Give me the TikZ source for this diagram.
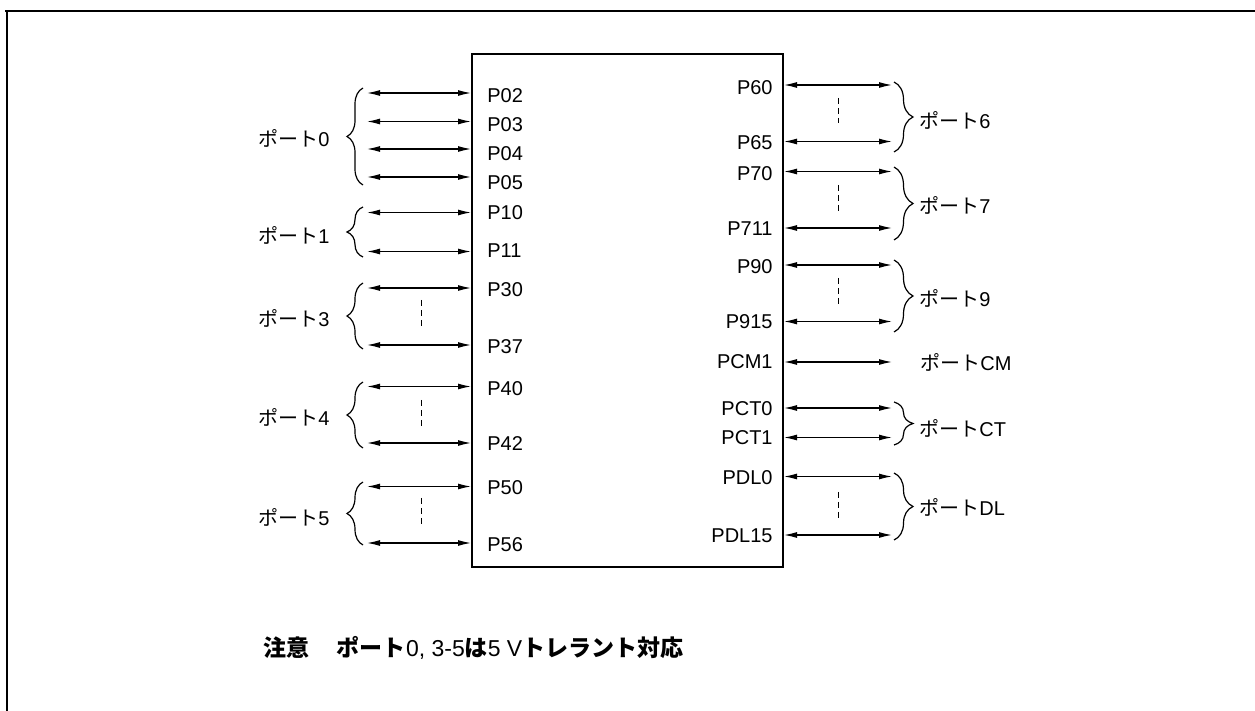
\documentclass[tikz,border=0pt]{standalone}
\usepackage{fontspec}
\setmainfont{Liberation Sans}
\newfontfamily\jp{Noto Sans CJK JP}
\usepackage{tikz}
\usetikzlibrary{arrows.meta,decorations.pathreplacing}

\newcommand{\portname}[1]{{\jp ポート}#1}

\begin{document}
\begin{tikzpicture}[
    x=0.5pt, y=-0.5pt,
    chip/.style={rectangle, draw, line width=1pt, inner sep=0pt, minimum width=155.5pt, minimum height=256.5pt},
    lpin/.style={anchor=west, inner sep=0pt, font=\fontsize{10}{12}\selectfont},
    rpin/.style={anchor=east, inner sep=0pt, font=\fontsize{10}{12}\selectfont},
    lgrp/.style={anchor=east, inner sep=0pt, font=\fontsize{10}{12}\selectfont},
    rgrp/.style={anchor=west, inner sep=0pt, font=\fontsize{10}{12}\selectfont},
    io/.style={{Latex[length=6.5pt,width=3pt]}-{Latex[length=6.5pt,width=3pt]}, line width=0.6pt},
    lbrace/.style={decorate, decoration={brace, amplitude=8pt}, line width=0.6pt},
    rbrace/.style={decorate, decoration={brace, amplitude=9.5pt}, line width=0.6pt},
    etc/.style={dash pattern=on 3pt off 2pt, line width=0.5pt}
]
    \useasboundingbox (0,0) rectangle (1255,711);
    % frame
    \draw [line width=1pt] (5,11) -- (1255,11);
    \draw [line width=1pt] (7,11) -- (7,711);

    \node [chip] (chip) at (627.5,310.5) {};

    % left side pins
    \node [lpin] (p02) at (487,96) {P02};
    \node [lpin] (p03) at (487,125) {P03};
    \node [lpin] (p04) at (487,154) {P04};
    \node [lpin] (p05) at (487,183) {P05};
    \node [lpin] (p10) at (487,213) {P10};
    \node [lpin] (p11) at (487,251) {P11};
    \node [lpin] (p30) at (487,290) {P30};
    \node [lpin] (p37) at (487,347) {P37};
    \node [lpin] (p40) at (487,389) {P40};
    \node [lpin] (p42) at (487,444) {P42};
    \node [lpin] (p50) at (487,488) {P50};
    \node [lpin] (p56) at (487,545) {P56};

    \coordinate (a02) at (367,93);
    \coordinate (a03) at (367,121.5);
    \coordinate (a04) at (367,149);
    \coordinate (a05) at (367,177);
    \coordinate (a10) at (367,212.5);
    \coordinate (a11) at (367,251.5);
    \coordinate (a30) at (367,288);
    \coordinate (a37) at (367,345);
    \coordinate (a40) at (367,386.5);
    \coordinate (a42) at (367,443);
    \coordinate (a50) at (367,486.5);
    \coordinate (a56) at (367,543);

    \draw [io] (a02) -- (a02 -| chip.west);
    \draw [io] (a03) -- (a03 -| chip.west);
    \draw [io] (a04) -- (a04 -| chip.west);
    \draw [io] (a05) -- (a05 -| chip.west);
    \draw [io] (a10) -- (a10 -| chip.west);
    \draw [io] (a11) -- (a11 -| chip.west);
    \draw [io] (a30) -- (a30 -| chip.west);
    \draw [io] (a37) -- (a37 -| chip.west);
    \draw [io] (a40) -- (a40 -| chip.west);
    \draw [io] (a42) -- (a42 -| chip.west);
    \draw [io] (a50) -- (a50 -| chip.west);
    \draw [io] (a56) -- (a56 -| chip.west);

    \draw [etc] (421,300) -- (421,327);
    \draw [etc] (421,400) -- (421,427);
    \draw [etc] (421,498) -- (421,527);

    \draw [lbrace] (363,185) -- (363,88);
    \draw [lbrace] (363,257) -- (363,207);
    \draw [lbrace] (363,349) -- (363,283);
    \draw [lbrace] (363,448) -- (363,382);
    \draw [lbrace] (363,545) -- (363,482);

    \node [lgrp] (port0) at (330,138) {\portname{0}};
    \node [lgrp] (port1) at (330,235) {\portname{1}};
    \node [lgrp] (port3) at (330,318) {\portname{3}};
    \node [lgrp] (port4) at (330,417) {\portname{4}};
    \node [lgrp] (port5) at (330,517) {\portname{5}};

    % right side pins
    \node [rpin] (p60) at (773,88) {P60};
    \node [rpin] (p65) at (773,143) {P65};
    \node [rpin] (p70) at (773,174) {P70};
    \node [rpin] (p711) at (773,229) {P711};
    \node [rpin] (p90) at (773,267) {P90};
    \node [rpin] (p915) at (773,322) {P915};
    \node [rpin] (pcm1) at (773,362) {PCM1};
    \node [rpin] (pct0) at (773,409) {PCT0};
    \node [rpin] (pct1) at (773,438) {PCT1};
    \node [rpin] (pdl0) at (773,478) {PDL0};
    \node [rpin] (pdl15) at (773,536) {PDL15};

    \coordinate (b60) at (892,85);
    \coordinate (b65) at (892,141.5);
    \coordinate (b70) at (892,171.5);
    \coordinate (b711) at (892,228);
    \coordinate (b90) at (892,265);
    \coordinate (b915) at (892,321.5);
    \coordinate (bcm1) at (892,362);
    \coordinate (bct0) at (892,408);
    \coordinate (bct1) at (892,437.5);
    \coordinate (bdl0) at (892,476.5);
    \coordinate (bdl15) at (892,535);

    \draw [io] (b60 -| chip.east) -- (b60);
    \draw [io] (b65 -| chip.east) -- (b65);
    \draw [io] (b70 -| chip.east) -- (b70);
    \draw [io] (b711 -| chip.east) -- (b711);
    \draw [io] (b90 -| chip.east) -- (b90);
    \draw [io] (b915 -| chip.east) -- (b915);
    \draw [io] (bcm1 -| chip.east) -- (bcm1);
    \draw [io] (bct0 -| chip.east) -- (bct0);
    \draw [io] (bct1 -| chip.east) -- (bct1);
    \draw [io] (bdl0 -| chip.east) -- (bdl0);
    \draw [io] (bdl15 -| chip.east) -- (bdl15);

    \draw [etc] (838,98) -- (838,123);
    \draw [etc] (838,185) -- (838,212);
    \draw [etc] (838,278) -- (838,305);
    \draw [etc] (838,492) -- (838,518);

    \draw [rbrace] (894,82) -- (894,152);
    \draw [rbrace] (894,167) -- (894,240);
    \draw [rbrace] (894,260) -- (894,332);
    \draw [rbrace] (894,402) -- (894,445);
    \draw [rbrace] (894,473) -- (894,540);

    \node [rgrp] (port6) at (919,120) {\portname{6}};
    \node [rgrp] (port7) at (919,205) {\portname{7}};
    \node [rgrp] (port9) at (919,298) {\portname{9}};
    \node [rgrp] (portcm) at (920,362) {\portname{CM}};
    \node [rgrp] (portct) at (919,428) {\portname{CT}};
    \node [rgrp] (portdl) at (919,507) {\portname{DL}};

    % note
    \node [anchor=west, inner sep=0pt, font=\fontsize{11.5}{13}\selectfont] (note) at (263,648)
        {{\bfseries\jp 注意}\hspace{1.2em}{\bfseries\jp ポート}0, 3-5{\bfseries\jp は}5 V{\bfseries\jp トレラント対応}};
\end{tikzpicture}
\end{document}
